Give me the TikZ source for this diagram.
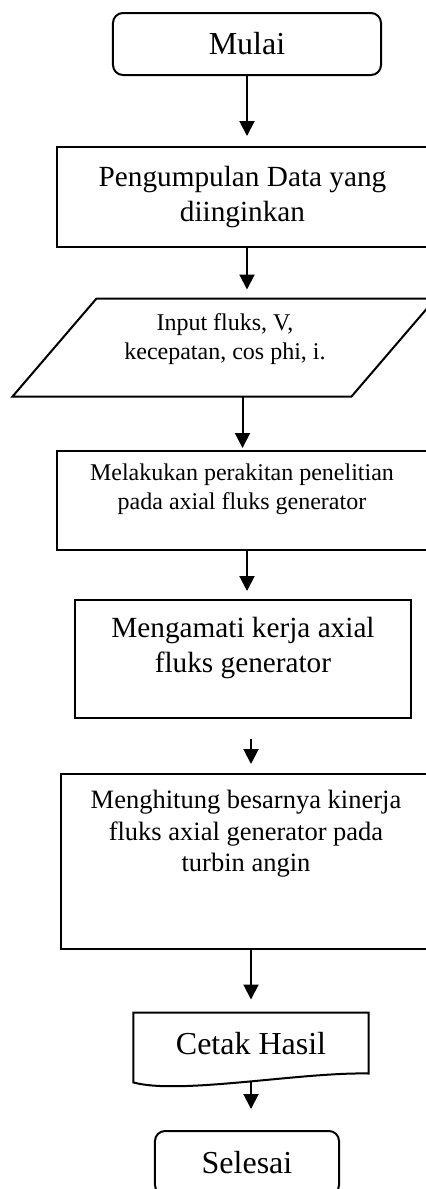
\documentclass[tikz,border=0pt]{standalone}
\usepackage{fontspec}
\setmainfont{Liberation Serif}
\usetikzlibrary{arrows.meta}

\newcommand{\hurufbesar}{\fontsize{12.8}{15.4}\selectfont}
\newcommand{\hurufsedang}{\fontsize{11.7}{14}\selectfont}
\newcommand{\hurufkecil}{\fontsize{9.6}{11.6}\selectfont}

\tikzset{
  kotak/.style={draw, line width=0.8pt, inner sep=0pt},
  terminal/.style={draw, line width=0.8pt, rounded corners=4pt, inner sep=0pt, font=\hurufbesar},
  tulisan/.style={align=center, inner sep=0pt},
  panah/.style={line width=0.8pt, -{Triangle[width=6pt,length=6pt]}},
}

\begin{document}
\begin{tikzpicture}[x=0.4pt,y=-0.4pt]

\useasboundingbox (0,0) rectangle (426,1189);
\clip (0,0) rectangle (426,1189);

% mulai dan pengumpulan data
\node[terminal, minimum width=107.2pt, minimum height=24.8pt] (mulai) at (247,44) {Mulai};
\node[kotak, minimum width=148.4pt, minimum height=40pt, align=center, font=\hurufsedang] (data) at (242.5,197)
  {Pengumpulan Data yang\\diinginkan};

% input (jajaran genjang)
\node[inner sep=0pt, minimum width=135.2pt, minimum height=38.8pt] (input) at (224,347.5) {};
\draw[line width=0.8pt] ([xshift=-16.8pt]input.south west) -- ([xshift=-16.8pt]input.south east)
  -- ([xshift=16.8pt]input.north east) -- ([xshift=16.8pt]input.north west) -- cycle;
\node[tulisan, font=\hurufkecil] (inputteks) at (225,339) {Input fluks, V,\\kecepatan, cos phi, i.};

% proses
\node[kotak, minimum width=148.4pt, minimum height=39.6pt] (rakit) at (242.5,500.5) {};
\node[tulisan, font=\hurufkecil] (rakitteks) at (242,489.5) {Melakukan perakitan penelitian\\pada axial fluks generator};

\node[kotak, minimum width=134.4pt, minimum height=47.2pt] (amati) at (243,659) {};
\node[tulisan, font=\hurufsedang] (amatiteks) at (243,647.5) {Mengamati kerja axial\\fluks generator};

\node[kotak, minimum width=148pt, minimum height=70pt] (hitung) at (246,861.5) {};
\node[tulisan, font=\fontsize{10.6}{12.6}\selectfont] (hitungteks) at (246,834)
  {Menghitung besarnya kinerja\\fluks axial generator pada\\turbin angin};

% cetak hasil (dokumen)
\node[inner sep=0pt, minimum width=93.6pt, minimum height=24.8pt, font=\hurufbesar] (cetak) at (251,1044) {Cetak Hasil};
\draw[line width=0.8pt] ([yshift=-2.8pt]cetak.south west) -- (cetak.north west) -- (cetak.north east)
  -- ([yshift=0.8pt]cetak.south east) .. controls (300,1072) and (180,1095) .. ([yshift=-2.8pt]cetak.south west) -- cycle;

\node[terminal, minimum width=73.6pt, minimum height=25.6pt] (selesai) at (247,1163) {Selesai};

% panah
\draw[panah, shorten >=4pt] (mulai.south) -- (mulai.south |- data.north);
\draw[panah, shorten >=3.6pt] (data.south -| mulai) -- (input.north -| mulai);
\draw[panah, shorten >=0.8pt] (input.south -| rakit) -- (rakit.north);
\draw[panah, shorten >=3.2pt] (rakit.south -| mulai) -- (amati.north -| mulai);
\draw[panah, shorten <=8pt, shorten >=3.6pt] (amati.south -| cetak) -- (hitung.north -| cetak);
\draw[panah, shorten >=5.2pt] (hitung.south -| cetak) -- (cetak.north);
\draw[panah, shorten <=2.4pt, shorten >=8.4pt] (cetak.south) -- (selesai.north -| cetak);

\end{tikzpicture}
\end{document}
